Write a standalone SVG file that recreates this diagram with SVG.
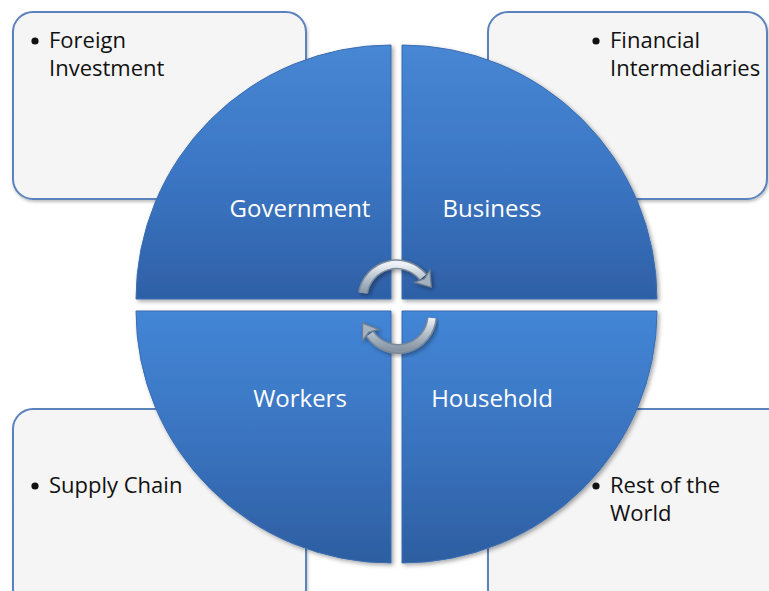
<svg xmlns="http://www.w3.org/2000/svg" width="769" height="591" viewBox="0 0 769 591">
<defs>
<style>
.box{fill:#f5f5f5;stroke:#5b82bd;stroke-width:2}
.bt{font-family:"Open Sans","Liberation Sans",sans-serif;font-size:22px;fill:#111}
.bul{fill:#111}
.qt{font-family:"Open Sans","Liberation Sans",sans-serif;font-size:24px;fill:#fff;text-anchor:middle}
.q{stroke:#3b6db0;stroke-width:1}
.arrb{fill:none;stroke:#7a8898;stroke-width:10}
.arr{fill:none;stroke:url(#ag);stroke-width:7}
</style>
<linearGradient id="qg1" x1="0" y1="0" x2="0" y2="1">
<stop offset="0" stop-color="#4787d4"/>
<stop offset="0.5" stop-color="#3b76c4"/>
<stop offset="1" stop-color="#2e60a6"/>
</linearGradient>
<linearGradient id="qg2" x1="0" y1="0" x2="0" y2="1">
<stop offset="0" stop-color="#4386d6"/>
<stop offset="0.5" stop-color="#3a74c0"/>
<stop offset="1" stop-color="#2d5ea1"/>
</linearGradient>
<linearGradient id="ag" x1="0" y1="0" x2="0" y2="1">
<stop offset="0" stop-color="#eef2f6"/>
<stop offset="0.5" stop-color="#b4c0cc"/>
<stop offset="1" stop-color="#8896a6"/>
</linearGradient>
<filter id="sh" x="-10%" y="-10%" width="120%" height="120%">
<feDropShadow dx="2" dy="2" stdDeviation="2" flood-color="#000" flood-opacity="0.35"/>
</filter>
<filter id="bsh" x="-10%" y="-10%" width="120%" height="120%">
<feDropShadow dx="1" dy="2" stdDeviation="1.5" flood-color="#000" flood-opacity="0.25"/>
</filter>
<marker id="ah" markerUnits="userSpaceOnUse" markerWidth="24" markerHeight="24" refX="0" refY="0" viewBox="-2 -11 16 22" orient="auto">
<path d="M-1,-9 L12,0 L-1,9 L2,0 Z" fill="#a4b1c0" stroke="#6f7d8d" stroke-width="1"/>
</marker>
</defs>
<rect width="769" height="591" fill="#fff"/>
<g id="box-foreign">
<rect class="box" x="13" y="12" width="293" height="187" rx="20" filter="url(#bsh)"/>
<circle class="bul" cx="35" cy="41" r="3.6"/>
<text class="bt" x="49" y="48">Foreign</text>
<text class="bt" x="49" y="76">Investment</text>
</g>
<g id="box-financial">
<rect class="box" x="488" y="12" width="279" height="187" rx="20" filter="url(#bsh)"/>
<circle class="bul" cx="596" cy="41" r="3.6"/>
<text class="bt" x="610" y="48">Financial</text>
<text class="bt" x="610" y="76">Intermediaries</text>
</g>
<g id="box-supply">
<rect class="box" x="13" y="409" width="293" height="200" rx="20" filter="url(#bsh)"/>
<circle class="bul" cx="35" cy="486" r="3.6"/>
<text class="bt" x="49" y="493">Supply Chain</text>
</g>
<g id="box-rest">
<rect class="box" x="488" y="409" width="300" height="200" rx="20" filter="url(#bsh)"/>
<circle class="bul" cx="596" cy="486" r="3.6"/>
<text class="bt" x="610" y="493">Rest of the</text>
<text class="bt" x="610" y="521">World</text>
</g>
<g id="government">
<path class="q" d="M391,299 L136,299 A255,254 0 0 1 391,45 Z" fill="url(#qg1)" filter="url(#sh)"/>
<text class="qt" x="300" y="217">Government</text>
</g>
<g id="business">
<path class="q" d="M402,299 L402,45 A255,254 0 0 1 657,299 Z" fill="url(#qg1)" filter="url(#sh)"/>
<text class="qt" x="492" y="217">Business</text>
</g>
<g id="workers">
<path class="q" d="M391,311 L391,563 A255,252 0 0 1 136,311 Z" fill="url(#qg2)" filter="url(#sh)"/>
<text class="qt" x="300" y="407">Workers</text>
</g>
<g id="household">
<path class="q" d="M402,311 L657,311 A255,252 0 0 1 402,563 Z" fill="url(#qg2)" filter="url(#sh)"/>
<text class="qt" x="492" y="407">Household</text>
</g>
<g id="connectors" filter="url(#sh)">
<path class="arrb" d="M363,293 A34,34 0 0 1 423,277"/>
<path class="arr" d="M363,293 A34,34 0 0 1 423,277" marker-end="url(#ah)"/>
<path class="arrb" d="M432,318 A34,34 0 0 1 370,334"/>
<path class="arr" d="M432,318 A34,34 0 0 1 370,334" marker-end="url(#ah)"/>
</g>
</svg>
